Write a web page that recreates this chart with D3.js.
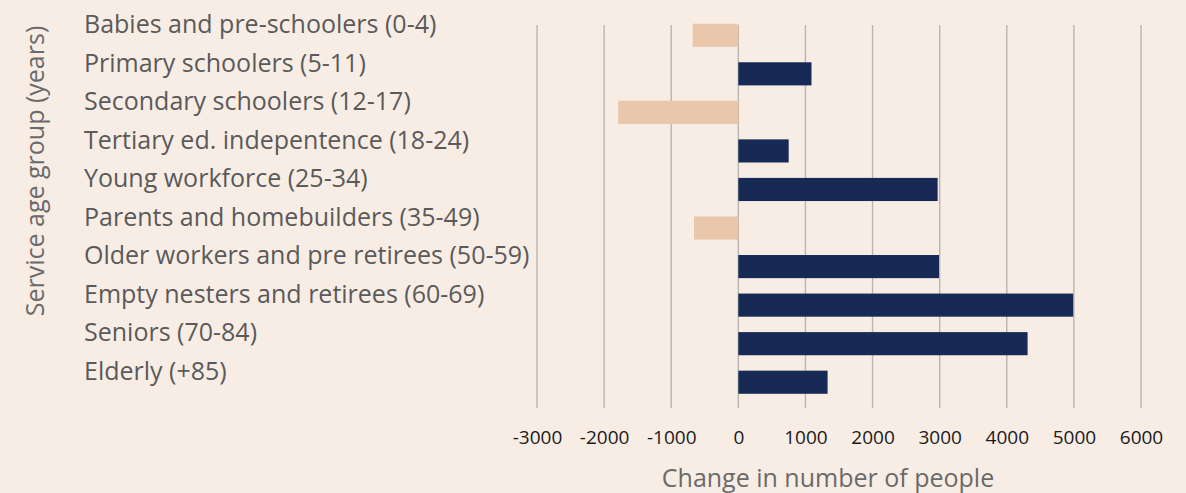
<!DOCTYPE html>
<html>
<head>
<meta charset="utf-8">
<script src="https://cdn.jsdelivr.net/npm/d3@7"></script>
<style>
  html, body { margin: 0; padding: 0; background: #f8ede5; }
  svg { display: block; font-family: "Open Sans", "Noto Sans", sans-serif; }
</style>
</head>
<body>
<div id="chart"></div>
<script>
// Service age groups, top to bottom
const groups = [
  "Babies and pre-schoolers (0-4)",
  "Primary schoolers (5-11)",
  "Secondary schoolers (12-17)",
  "Tertiary ed. indepentence (18-24)",
  "Young workforce (25-34)",
  "Parents and homebuilders (35-49)",
  "Older workers and pre retirees (50-59)",
  "Empty nesters and retirees (60-69)",
  "Seniors (70-84)",
  "Elderly (+85)"
];

// Change in number of people per group
const changes = [-680, 1090, -1790, 750, 2970, -660, 2990, 4990, 4310, 1330];

const xTicks = [-3000, -2000, -1000, 0, 1000, 2000, 3000, 4000, 5000, 6000];

const data = groups.map((g, i) => ({ group: g, value: changes[i] }));

const width = 1186, height = 493;

const svg = d3.select("#chart")
  .append("svg")
  .attr("width", width)
  .attr("height", height);

// x scale: zero sits around x=738
const x = d3.scaleLinear()
  .domain([-3000, 6000])
  .range([537, 1141]);

const y = d3.scaleBand()
  .domain(groups)
  .range([16, 401.5])
  .paddingInner(0.4)
  .paddingOuter(0.2);

// vertical gridlines
svg.append("g")
  .selectAll("line")
  .data(xTicks)
  .enter()
  .append("line")
  .attr("x1", d => x(d))
  .attr("x2", d => x(d))
  .attr("y1", 25)
  .attr("y2", 408)
  .attr("stroke", "#b9b5b1")
  .attr("stroke-width", 1.4);

// bars
svg.selectAll(".bar")
  .data(data)
  .enter()
  .append("rect")
  .attr("class", "bar")
  .attr("x", d => x(Math.min(0, d.value)))
  .attr("y", d => y(d.group))
  .attr("width", d => Math.abs(x(d.value) - x(0)))
  .attr("height", y.bandwidth())
  .attr("fill", d => d.value < 0 ? "#eac6ab" : "#172a56");

// category labels, left of the plot
svg.selectAll(".label")
  .data(data)
  .enter()
  .append("text")
  .attr("class", "label")
  .attr("x", 84)
  .attr("y", d => y(d.group) + y.bandwidth() / 2 - 11)
  .attr("dy", "0.35em")
  .style("font-size", "25px")
  .style("fill", "#5a5a5a")
  .text(d => d.group);

// x axis tick labels only
const xAxis = svg.append("g")
  .attr("transform", "translate(0, 427)")
  .call(d3.axisBottom(x).tickValues(xTicks).tickSize(0).tickFormat(d => String(d)));

xAxis.select(".domain").remove();
xAxis.selectAll("text")
  .style("font-size", "19px")
  .style("font-family", "\"Open Sans\", \"Noto Sans\", sans-serif")
  .attr("fill", "#1a1a1a");

// axis titles
svg.append("text")
  .attr("x", 828)
  .attr("y", 478)
  .attr("text-anchor", "middle")
  .attr("dy", "0.35em")
  .style("font-size", "25px")
  .style("fill", "#6a6a6a")
  .text("Change in number of people");

svg.append("text")
  .attr("transform", "translate(35, 171) rotate(-90)")
  .attr("text-anchor", "middle")
  .attr("dy", "0.35em")
  .style("font-size", "25px")
  .style("fill", "#6a6a6a")
  .text("Service age group (years)");
</script>
</body>
</html>
